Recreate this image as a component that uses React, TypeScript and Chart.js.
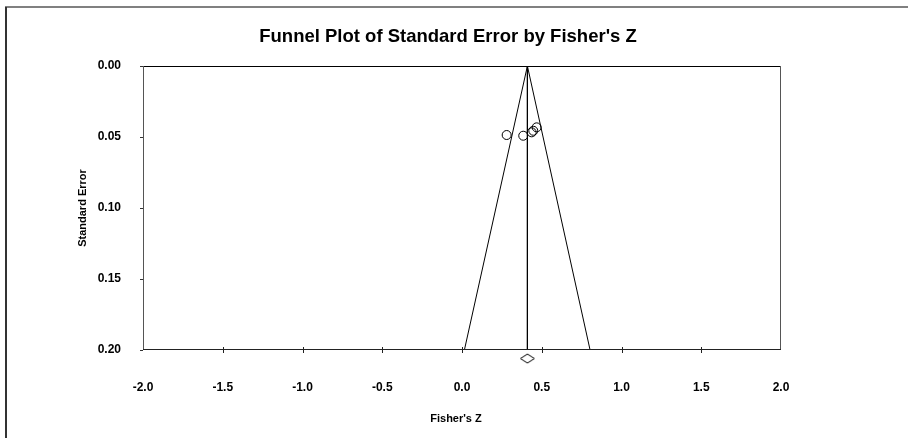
import React, { useEffect, useRef } from "react";
import { Chart, registerables } from "chart.js";

Chart.register(...registerables);

const TITLE = "Funnel Plot of Standard Error by Fisher's Z";
const X_TITLE = "Fisher's Z";
const Y_TITLE = "Standard Error";

const X_MIN = -2.0;
const X_MAX = 2.0;
const X_STEP = 0.5;
const Y_MIN = 0.0;
const Y_MAX = 0.2;
const Y_STEP = 0.05;

// Study points: Fisher's Z and standard error
const studyZ = [0.28, 0.384, 0.437, 0.447, 0.468];
const studySE = [0.0486, 0.0491, 0.0467, 0.0456, 0.0432];

// Summary effect
const summaryZ = [0.41];
const summarySE = [0.206];

// Funnel limits (pseudo 95% confidence lines)
const funnelLeftZ = [0.41, 0.015];
const funnelRightZ = [0.41, 0.803];
const funnelSE = [0.0, 0.2];
const meanLineZ = [0.41, 0.41];

const FONT = "'Liberation Sans', Arial, Helvetica, sans-serif";

function makeDiamond(): HTMLCanvasElement {
  const c = document.createElement("canvas");
  c.width = 16;
  c.height = 11;
  const g = c.getContext("2d")!;
  g.strokeStyle = "#000";
  g.lineWidth = 1;
  g.beginPath();
  g.moveTo(1, 5.5);
  g.lineTo(8, 1);
  g.lineTo(15, 5.5);
  g.lineTo(8, 10);
  g.closePath();
  g.fillStyle = "#fff";
  g.fill();
  g.stroke();
  return c;
}

const decorPlugin = {
  id: "decor",
  beforeDraw(chart: any) {
    const ctx = chart.ctx;
    ctx.save();
    ctx.fillStyle = "#fff";
    ctx.fillRect(0, 0, chart.width, chart.height);
    // outer frame
    ctx.strokeStyle = "#808080";
    ctx.lineWidth = 2;
    ctx.beginPath();
    ctx.moveTo(5, 7);
    ctx.lineTo(chart.width, 7);
    ctx.stroke();
    ctx.strokeStyle = "#333";
    ctx.lineWidth = 2;
    ctx.beginPath();
    ctx.moveTo(6, 7);
    ctx.lineTo(6, chart.height);
    ctx.stroke();
    ctx.restore();
  },
  afterDraw(chart: any) {
    const ctx = chart.ctx;
    const a = chart.chartArea;
    const xs = chart.scales.x;
    ctx.save();
    // plot box
    ctx.lineWidth = 1;
    ctx.strokeStyle = "#000";
    ctx.beginPath();
    ctx.moveTo(a.left, a.top + 0.5);
    ctx.lineTo(a.right, a.top + 0.5);
    ctx.stroke();
    ctx.strokeStyle = "#555";
    ctx.beginPath();
    ctx.moveTo(a.left + 0.5, a.top);
    ctx.lineTo(a.left + 0.5, a.bottom);
    ctx.moveTo(a.right - 0.5, a.top);
    ctx.lineTo(a.right - 0.5, a.bottom);
    ctx.stroke();
    ctx.strokeStyle = "#222";
    ctx.beginPath();
    ctx.moveTo(a.left, a.bottom - 0.5);
    ctx.lineTo(a.right, a.bottom - 0.5);
    ctx.stroke();
    // x tick marks crossing axis
    ctx.strokeStyle = "#222";
    ctx.beginPath();
    xs.ticks.forEach((t: any) => {
      if (t.value <= X_MIN || t.value >= X_MAX) return;
      const px = Math.round(xs.getPixelForValue(t.value)) + 0.5;
      ctx.moveTo(px, a.bottom - 3);
      ctx.lineTo(px, a.bottom + 3);
    });
    ctx.stroke();
    // titles
    ctx.fillStyle = "#000";
    ctx.textAlign = "center";
    ctx.textBaseline = "middle";
    ctx.font = `bold 18.5px ${FONT}`;
    ctx.fillText(TITLE, 448, 37);
    ctx.font = `bold 11px ${FONT}`;
    ctx.fillText(X_TITLE, 456, 419);
    ctx.translate(83, (a.top + a.bottom) / 2);
    ctx.rotate(-Math.PI / 2);
    ctx.fillText(Y_TITLE, 0, 0);
    ctx.restore();
  },
};

export default function App() {
  const ref = useRef<HTMLCanvasElement>(null);

  useEffect(() => {
    if (!ref.current) return;
    const diamond = makeDiamond();
    const toPts = (xs: number[], ys: number[]) => xs.map((x, i) => ({ x, y: ys[i] }));
    const lineDs = (xs: number[]) => ({
      type: "line" as const,
      data: toPts(xs, funnelSE),
      borderColor: "#000",
      borderWidth: 1,
      pointRadius: 0,
      fill: false,
      showLine: true,
      tension: 0,
    });
    const chart = new Chart(ref.current, {
      type: "scatter",
      data: {
        datasets: [
          lineDs(funnelLeftZ),
          lineDs(funnelRightZ),
          lineDs(meanLineZ),
          {
            type: "scatter",
            data: toPts(studyZ, studySE),
            pointStyle: "circle",
            pointRadius: 4.5,
            borderColor: "#000",
            borderWidth: 1,
            backgroundColor: "rgba(0,0,0,0)",
          },
          {
            type: "scatter",
            data: toPts(summaryZ, summarySE),
            pointStyle: diamond,
            pointRadius: 30,
            borderWidth: 0,
            clip: false,
          } as any,
        ],
      },
      options: {
        animation: false,
        responsive: false,
        devicePixelRatio: 1,
        layout: { padding: { left: 0, right: 127, top: 66, bottom: 0 } },
        plugins: {
          legend: { display: false },
          title: { display: false },
          tooltip: { enabled: false },
        },
        scales: {
          x: {
            type: "linear",
            min: X_MIN,
            max: X_MAX,
            grid: { display: false, drawTicks: false },
            border: { display: false },
            ticks: {
              stepSize: X_STEP,
              padding: 30,
              color: "#000",
              font: { family: FONT, size: 12, weight: "bold" },
              callback: (v: any) => Number(v).toFixed(1),
            },
            afterFit: (s: any) => {
              s.height = 88;
            },
          },
          y: {
            type: "linear",
            reverse: true,
            min: Y_MIN,
            max: Y_MAX,
            grid: { drawOnChartArea: false, drawTicks: true, tickLength: 3, color: "#333" },
            border: { display: false },
            ticks: {
              stepSize: Y_STEP,
              padding: 19,
              color: "#000",
              font: { family: FONT, size: 12, weight: "bold" },
              callback: (v: any) => Number(v).toFixed(2),
            },
            afterFit: (s: any) => {
              s.width = 143;
            },
          },
        },
      },
      plugins: [decorPlugin],
    } as any);
    return () => chart.destroy();
  }, []);

  return (
    <div style={{ position: "fixed", left: 0, top: 0, width: 908, height: 438, background: "#fff" }}>
      <canvas ref={ref} width={908} height={438} style={{ width: 908, height: 438, display: "block" }} />
    </div>
  );
}
